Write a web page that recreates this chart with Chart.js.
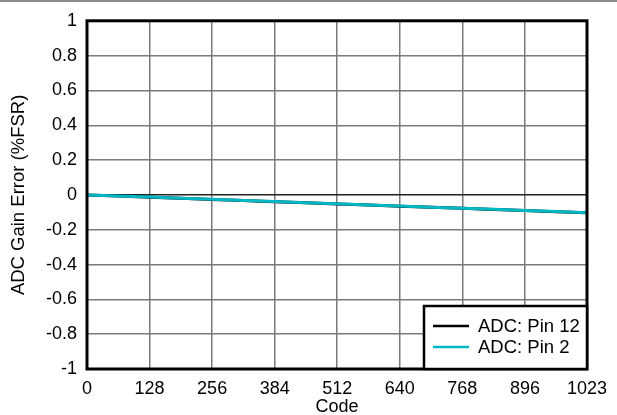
<!DOCTYPE html>
<html>
<head>
<meta charset="utf-8">
<script src="https://cdn.jsdelivr.net/npm/chart.js@4"></script>
<style>
  html, body { margin: 0; padding: 0; background: #fff; }
  #wrap { width: 617px; height: 415px; position: relative; }
</style>
</head>
<body>
<div id="wrap"><canvas id="gainChart" width="617" height="415"></canvas></div>
<script>
// values
const codes = [0, 64, 128, 192, 256, 320, 384, 448, 512, 576, 640, 704, 768, 832, 896, 960, 1023];
const pin12Error = [0.000, -0.006, -0.013, -0.019, -0.026, -0.032, -0.039, -0.045, -0.052, -0.058, -0.065, -0.071, -0.077, -0.084, -0.090, -0.097, -0.103];
const pin2Error = [0.000, -0.006, -0.012, -0.019, -0.025, -0.032, -0.038, -0.045, -0.051, -0.058, -0.064, -0.071, -0.077, -0.083, -0.090, -0.096, -0.102];
const xTicks = [0, 128, 256, 384, 512, 640, 768, 896, 1023];
const yTicks = [-1, -0.8, -0.6, -0.4, -0.2, 0, 0.2, 0.4, 0.6, 0.8, 1];
const yTickLabels = ["-1", "-0.8", "-0.6", "-0.4", "-0.2", "0", "0.2", "0.4", "0.6", "0.8", "1"];

const FONT = "'Liberation Sans', Arial, sans-serif";

const toPoints = (ys) => codes.map((c, i) => ({ x: c, y: ys[i] }));

// frame + top bar + legend drawn by hand
const framePlugin = {
  id: "frame",
  beforeDraw(chart) {
    const ctx = chart.ctx;
    ctx.save();
    ctx.fillStyle = "#8c8c8c";
    ctx.fillRect(0, 0, chart.width, 2);
    ctx.restore();
  },
  afterDatasetsDraw(chart) {
    const { ctx, chartArea: a } = chart;
    ctx.save();
    ctx.strokeStyle = "#000";
    ctx.lineWidth = 3;
    ctx.strokeRect(a.left, a.top, a.right - a.left, a.bottom - a.top);

    // legend box in lower right corner
    const bx = 424, by = 306, bw = a.right - 424, bh = a.bottom - 306;
    ctx.fillStyle = "#fff";
    ctx.fillRect(bx, by, bw, bh);
    ctx.lineWidth = 2.5;
    ctx.strokeRect(bx, by, bw, bh);

    const rows = [chart.data.datasets[0], chart.data.datasets[1]];
    ctx.font = "18.5px " + FONT;
    ctx.textBaseline = "middle";
    rows.forEach((ds, i) => {
      const y = 326 + i * 21;
      ctx.strokeStyle = ds.borderColor;
      ctx.lineWidth = 2.5;
      ctx.beginPath();
      ctx.moveTo(433, y);
      ctx.lineTo(469, y);
      ctx.stroke();
      ctx.fillStyle = "#000";
      ctx.fillText(ds.label, 478, y + 1);
    });
    ctx.restore();
  },
};

new Chart(document.getElementById("gainChart").getContext("2d"), {
  type: "line",
  data: {
    datasets: [
      {
        label: "ADC: Pin 12",
        data: toPoints(pin12Error),
        borderColor: "#000000",
        borderWidth: 3,
        pointRadius: 0,
        order: 1,
      },
      {
        label: "ADC: Pin 2",
        data: toPoints(pin2Error),
        borderColor: "#00b8c4",
        borderWidth: 3,
        pointRadius: 0,
        order: 0,
      },
    ],
  },
  options: {
    responsive: false,
    animation: false,
    events: [],
    layout: { padding: { top: 20, right: 30 } },
    plugins: {
      legend: { display: false },
      tooltip: { enabled: false },
    },
    scales: {
      x: {
        type: "linear",
        min: 0,
        max: 1023,
        afterBuildTicks: (scale) => {
          scale.ticks = xTicks.map((v) => ({ value: v }));
        },
        afterFit: (scale) => {
          scale.height = 46;
        },
        ticks: {
          color: "#000",
          font: { family: FONT, size: 18 },
          padding: 9,
          maxRotation: 0,
          autoSkip: false,
          callback: (v) => String(v),
        },
        grid: { color: "#7a7a7a", lineWidth: 1.5, drawTicks: false },
        border: { display: false },
        title: {
          display: true,
          text: "Code",
          color: "#000",
          font: { family: FONT, size: 18 },
          padding: { top: 0, bottom: -3 },
        },
      },
      y: {
        min: -1,
        max: 1,
        afterBuildTicks: (scale) => {
          scale.ticks = yTicks.map((v) => ({ value: v }));
        },
        afterFit: (scale) => {
          scale.width = 87;
        },
        ticks: {
          color: "#000",
          font: { family: FONT, size: 18 },
          padding: 10,
          callback: (v) => yTickLabels[yTicks.indexOf(v)] ?? "",
        },
        grid: {
          color: (c) => (c.tick && c.tick.value === 0 ? "#222" : "#7a7a7a"),
          lineWidth: 1.5,
          drawTicks: false,
        },
        border: { display: false },
        title: {
          display: true,
          text: "ADC Gain Error (%FSR)",
          color: "#000",
          font: { family: FONT, size: 18.5 },
          padding: { top: 8, bottom: 0 },
        },
      },
    },
  },
  plugins: [framePlugin],
});
</script>
</body>
</html>
